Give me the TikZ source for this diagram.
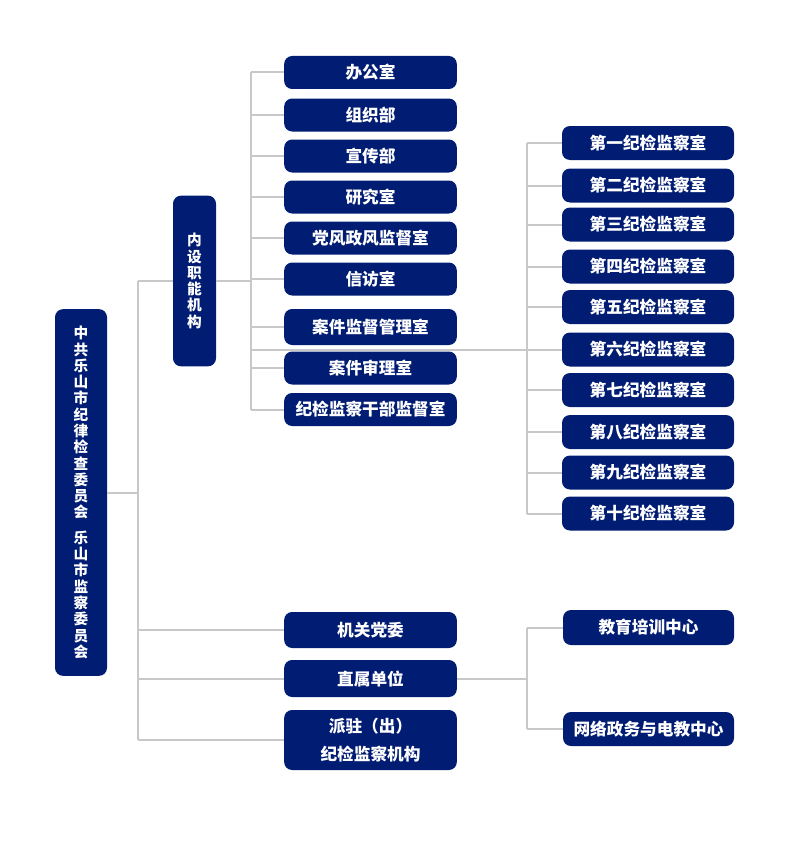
\documentclass[tikz,border=0pt]{standalone}
\usepackage{fontspec}
\usepackage{tikz}
\usetikzlibrary{positioning}
\newfontfamily\cjk{Noto Sans CJK SC}
\definecolor{navy}{RGB}{0,28,115}
\definecolor{linegray}{RGB}{200,200,200}
\tikzset{
  box/.style={fill=navy, text=white, rounded corners=6pt, inner sep=0pt,
    minimum width=129.5pt, minimum height=24.75pt,
    font=\cjk\bfseries\fontsize{12.5}{15}\selectfont},
  vbox/.style={box, minimum width=32.25pt, align=center,
    font=\cjk\bfseries\fontsize{11}{12.2}\selectfont},
  link/.style={draw=linegray, line width=1.5pt}
}

\begin{document}
\begin{tikzpicture}[x=0.75pt,y=-0.75pt]
\useasboundingbox (0,0) rectangle (800,849);
% branch trunks
\coordinate (trunkA) at (138,0);
\coordinate (trunkB) at (251,0);
\coordinate (trunkC) at (527,0);

% root and second level
\node[vbox, minimum width=39pt, minimum height=275pt] (root) at (81,492.5)
  {中\\共\\乐\\山\\市\\纪\\律\\检\\查\\委\\员\\会\\[7pt]乐\\山\\市\\监\\察\\委\\员\\会};
\node[vbox, minimum height=128pt] (neishe) at (194.5,281) {内\\设\\职\\能\\机\\构};

% internal departments
\node[box] (bgs) at (370.5,72.5) {办公室};
\node[box] (zzb) at (370.5,115) {组织部};
\node[box] (xcb) at (370.5,156) {宣传部};
\node[box] (yjs) at (370.5,197) {研究室};
\node[box] (dfzf) at (370.5,238) {党风政风监督室};
\node[box] (xfs) at (370.5,279) {信访室};
\node[box, minimum height=27pt] (ajjd) at (370.5,327) {案件监督管理室};
\node[box] (ajsl) at (370.5,368) {案件审理室};
\node[box] (gbjd) at (370.5,409.5) {纪检监察干部监督室};

% lower branch
\node[box, minimum height=27pt] (jgdw) at (370.5,630) {机关党委};
\node[box, minimum height=27.75pt] (zsdw) at (370.5,678.5) {直属单位};
\node[box, minimum height=45pt, align=center] (paizhu) at (370.5,740)
  {派驻（出）\\[6pt]纪检监察机构};
\node[box, minimum width=128.25pt, minimum height=26.25pt] (jypx) at (648.5,627.5) {教育培训中心};
\node[box, minimum width=128.25pt, minimum height=25.5pt] (wlzw) at (648.5,729) {网络政务与电教中心};

% discipline inspection offices
\foreach \n/\c/\y in {1/一/143,2/二/185.5,3/三/224.5,4/四/266.5,5/五/307,
                      6/六/349.5,7/七/390,8/八/432,9/九/472.5,10/十/513.5}
  \node[box, minimum width=129pt, minimum height=25.5pt] (di\n) at (648,\y) {第\c 纪检监察室};

% connectors
\draw[link] (root.east) -- (root.east -| trunkA);
\draw[link] (neishe.west -| trunkA) -- (paizhu.west -| trunkA);
\foreach \t in {neishe,jgdw,zsdw,paizhu}
  \draw[link] (\t.west) -- (\t.west -| trunkA);
\draw[link] (neishe.east) -- (neishe.east -| trunkB);
\draw[link] (bgs.west -| trunkB) -- (gbjd.west -| trunkB);
\foreach \t in {bgs,zzb,xcb,yjs,dfzf,xfs,ajjd,ajsl,gbjd}
  \draw[link] (\t.west) -- (\t.west -| trunkB);
\draw[link] (trunkB |- di6.west) -- (di6.west);
\draw[link] (di1.west -| trunkC) -- (di10.west -| trunkC);
\foreach \n in {1,...,10}
  \draw[link] (di\n.west) -- (di\n.west -| trunkC);
\draw[link] (zsdw.east) -- (zsdw.east -| trunkC);
\draw[link] (jypx.west -| trunkC) -- (wlzw.west -| trunkC);
\draw[link] (jypx.west) -- (jypx.west -| trunkC);
\draw[link] (wlzw.west) -- (wlzw.west -| trunkC);
\end{tikzpicture}
\end{document}
